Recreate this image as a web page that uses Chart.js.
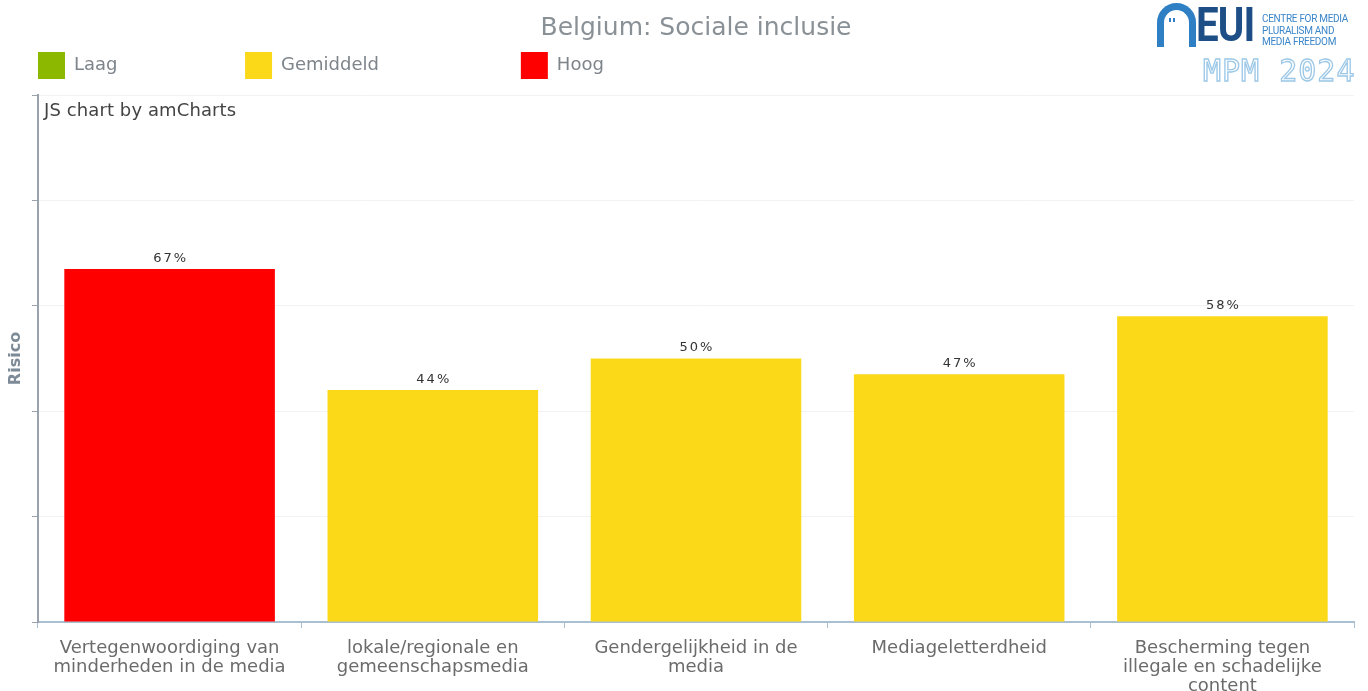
<!DOCTYPE html>
<html>
<head>
<meta charset="utf-8">
<script src="https://cdn.jsdelivr.net/npm/chart.js@4.4.1/dist/chart.umd.min.js"></script>
<style>
  html, body { margin: 0; padding: 0; background: #fff; }
  #wrap { position: relative; width: 1368px; height: 691px; }
  #credit { position: absolute; left: 44px; top: 99px; font: 18px "DejaVu Sans", sans-serif; color: #444; letter-spacing: 0.1px; }
  #logo { position: absolute; left: 1155px; top: 2px; width: 210px; height: 85px; font-family: "Open Sans", sans-serif; }
  #arch { position: absolute; left: 2px; top: 1px; width: 25px; height: 37px; border: 7px solid #2f7fc4; border-bottom: none; border-radius: 20px 20px 0 0; }
  #arch i { position: absolute; left: 5px; top: 8px; width: 2px; height: 4px; background: #2f7fc4; box-shadow: 4px 0 0 #2f7fc4; }
  #eui { position: absolute; left: 41px; top: -6px; font: bold 48px "Liberation Sans Narrow", "Roboto", sans-serif; color: #1d4f86; letter-spacing: -1px; transform: scaleX(0.84); transform-origin: left top; }
  #cmp { position: absolute; left: 107px; top: 11px; font: 10px/11.5px "Roboto", sans-serif; color: #3b86c9; letter-spacing: -0.3px; }
  #mpm { position: absolute; left: 48px; top: 51px; font: 30px "DejaVu Sans Mono", monospace; color: #fff; -webkit-text-stroke: 1.3px #9cc8e8; letter-spacing: 1px; }
</style>
</head>
<body>
<div id="wrap">
  <canvas id="riskChart" width="1368" height="691"></canvas>
  <div id="credit">JS chart by amCharts</div>
  <div id="logo">
    <div id="arch"><i></i></div>
    <div id="eui">EUI</div>
    <div id="cmp">CENTRE FOR MEDIA<br>PLURALISM AND<br>MEDIA FREEDOM</div>
    <div id="mpm">MPM 2024</div>
  </div>
</div>
<script>
// Datos del gráfico
var categorias = [
    ["Vertegenwoordiging van", "minderheden in de media"],
    ["lokale/regionale en", "gemeenschapsmedia"],
    ["Gendergelijkheid in de", "media"],
    ["Mediageletterdheid"],
    ["Bescherming tegen", "illegale en schadelijke", "content"]
];
var valores = [67, 44, 50, 47, 58];
var niveles = ["Hoog", "Gemiddeld", "Gemiddeld", "Gemiddeld", "Gemiddeld"];
var nivelesLeyenda = ["Laag", "Gemiddeld", "Hoog"];
var coloresNivel = { "Laag": "#8cb800", "Gemiddeld": "#fbd919", "Hoog": "#ff0000" };
var ticksY = [0, 20, 40, 60, 80, 100];

var fuenteLeyenda = '18px "DejaVu Sans"';
// ancho del texto de cada columna de la leyenda, como en amCharts
var anchoTextoLeyenda = [160, 228, 0];

// Etiquetas de porcentaje encima de las barras
var etiquetasBarras = {
    id: 'etiquetasBarras',
    afterDatasetsDraw: function(chart) {
        var ctx = chart.ctx;
        var meta = chart.getDatasetMeta(0);
        ctx.save();
        ctx.font = '13px "DejaVu Sans", sans-serif';
        ctx.fillStyle = '#333';
        ctx.textAlign = 'center';
        ctx.textBaseline = 'bottom';
        ctx.letterSpacing = '2px';
        meta.data.forEach(function(bar, i) {
            ctx.fillText(valores[i] + '%', bar.x + 1, bar.y - 4);
        });
        ctx.restore();
    }
};

// Mover la leyenda un poco a la derecha (amCharts la alinea con el eje)
var desplazarLeyenda = {
    id: 'desplazarLeyenda',
    afterLayout: function(chart) {
        chart.legend.left += 15;
        chart.legend.right += 15;
    }
};

var ctx = document.getElementById('riskChart').getContext('2d');
var riskChart = new Chart(ctx, {
    type: 'bar',
    data: {
        labels: categorias,
        datasets: [{
            label: 'Risico',
            data: valores,
            backgroundColor: niveles.map(function(n) { return coloresNivel[n]; }),
            borderWidth: 0,
            categoryPercentage: 0.8,
            barPercentage: 1
        }]
    },
    options: {
        responsive: false,
        animation: false,
        layout: { padding: { left: 12, right: 14, top: 0, bottom: 0 } },
        plugins: {
            tooltip: { enabled: false },
            title: {
                display: true,
                fullSize: false,
                text: 'Belgium: Sociale inclusie',
                color: '#8a9196',
                font: { family: 'DejaVu Sans', size: 25, weight: 'normal', lineHeight: 1 },
                padding: { top: 16, bottom: 0 }
            },
            legend: {
                display: true,
                align: 'start',
                labels: {
                    boxWidth: 27,
                    boxHeight: 27,
                    padding: 11,
                    color: '#7d848a',
                    font: { family: 'DejaVu Sans', size: 18 },
                    generateLabels: function(chart) {
                        var c = chart.ctx;
                        c.save();
                        c.font = fuenteLeyenda;
                        var items = nivelesLeyenda.map(function(n, i) {
                            var txt = n;
                            while (c.measureText(txt).width < anchoTextoLeyenda[i]) {
                                txt += '\u200A';
                            }
                            return {
                                text: txt,
                                fillStyle: coloresNivel[n],
                                strokeStyle: coloresNivel[n],
                                lineWidth: 0,
                                fontColor: '#7d848a',
                                datasetIndex: 0,
                                index: i
                            };
                        });
                        c.restore();
                        return items;
                    }
                },
                onClick: function() {}
            }
        },
        scales: {
            x: {
                afterFit: function(scale) { scale.height = 69; },
                border: { color: '#a9c0d2', width: 2 },
                grid: { drawOnChartArea: false, drawTicks: true, tickLength: 6, tickColor: '#a9c0d2', offset: true },
                ticks: {
                    color: '#6b6b6b',
                    font: { family: 'DejaVu Sans', size: 18, lineHeight: 1.05 },
                    padding: 11,
                    maxRotation: 0,
                    autoSkip: false
                }
            },
            xTop: {
                type: 'category',
                position: 'top',
                afterFit: function(scale) { scale.height = 6; },
                border: { display: false },
                grid: { display: false },
                ticks: { display: false }
            },
            y: {
                min: 0,
                max: 100,
                afterFit: function(scale) { scale.width = 26; },
                afterBuildTicks: function(scale) {
                    scale.ticks = ticksY.map(function(v) { return { value: v }; });
                },
                border: { color: '#9aa3ad', width: 2 },
                grid: { color: '#f2f2f2', tickColor: '#9aa3ad', tickLength: 6 },
                ticks: { display: false },
                title: {
                    display: true,
                    text: 'Risico',
                    color: '#7d8b98',
                    font: { family: 'DejaVu Sans', size: 16, weight: 'bold', lineHeight: 0.5 },
                    padding: 0
                }
            }
        }
    },
    plugins: [etiquetasBarras, desplazarLeyenda]
});
</script>
</body>
</html>
